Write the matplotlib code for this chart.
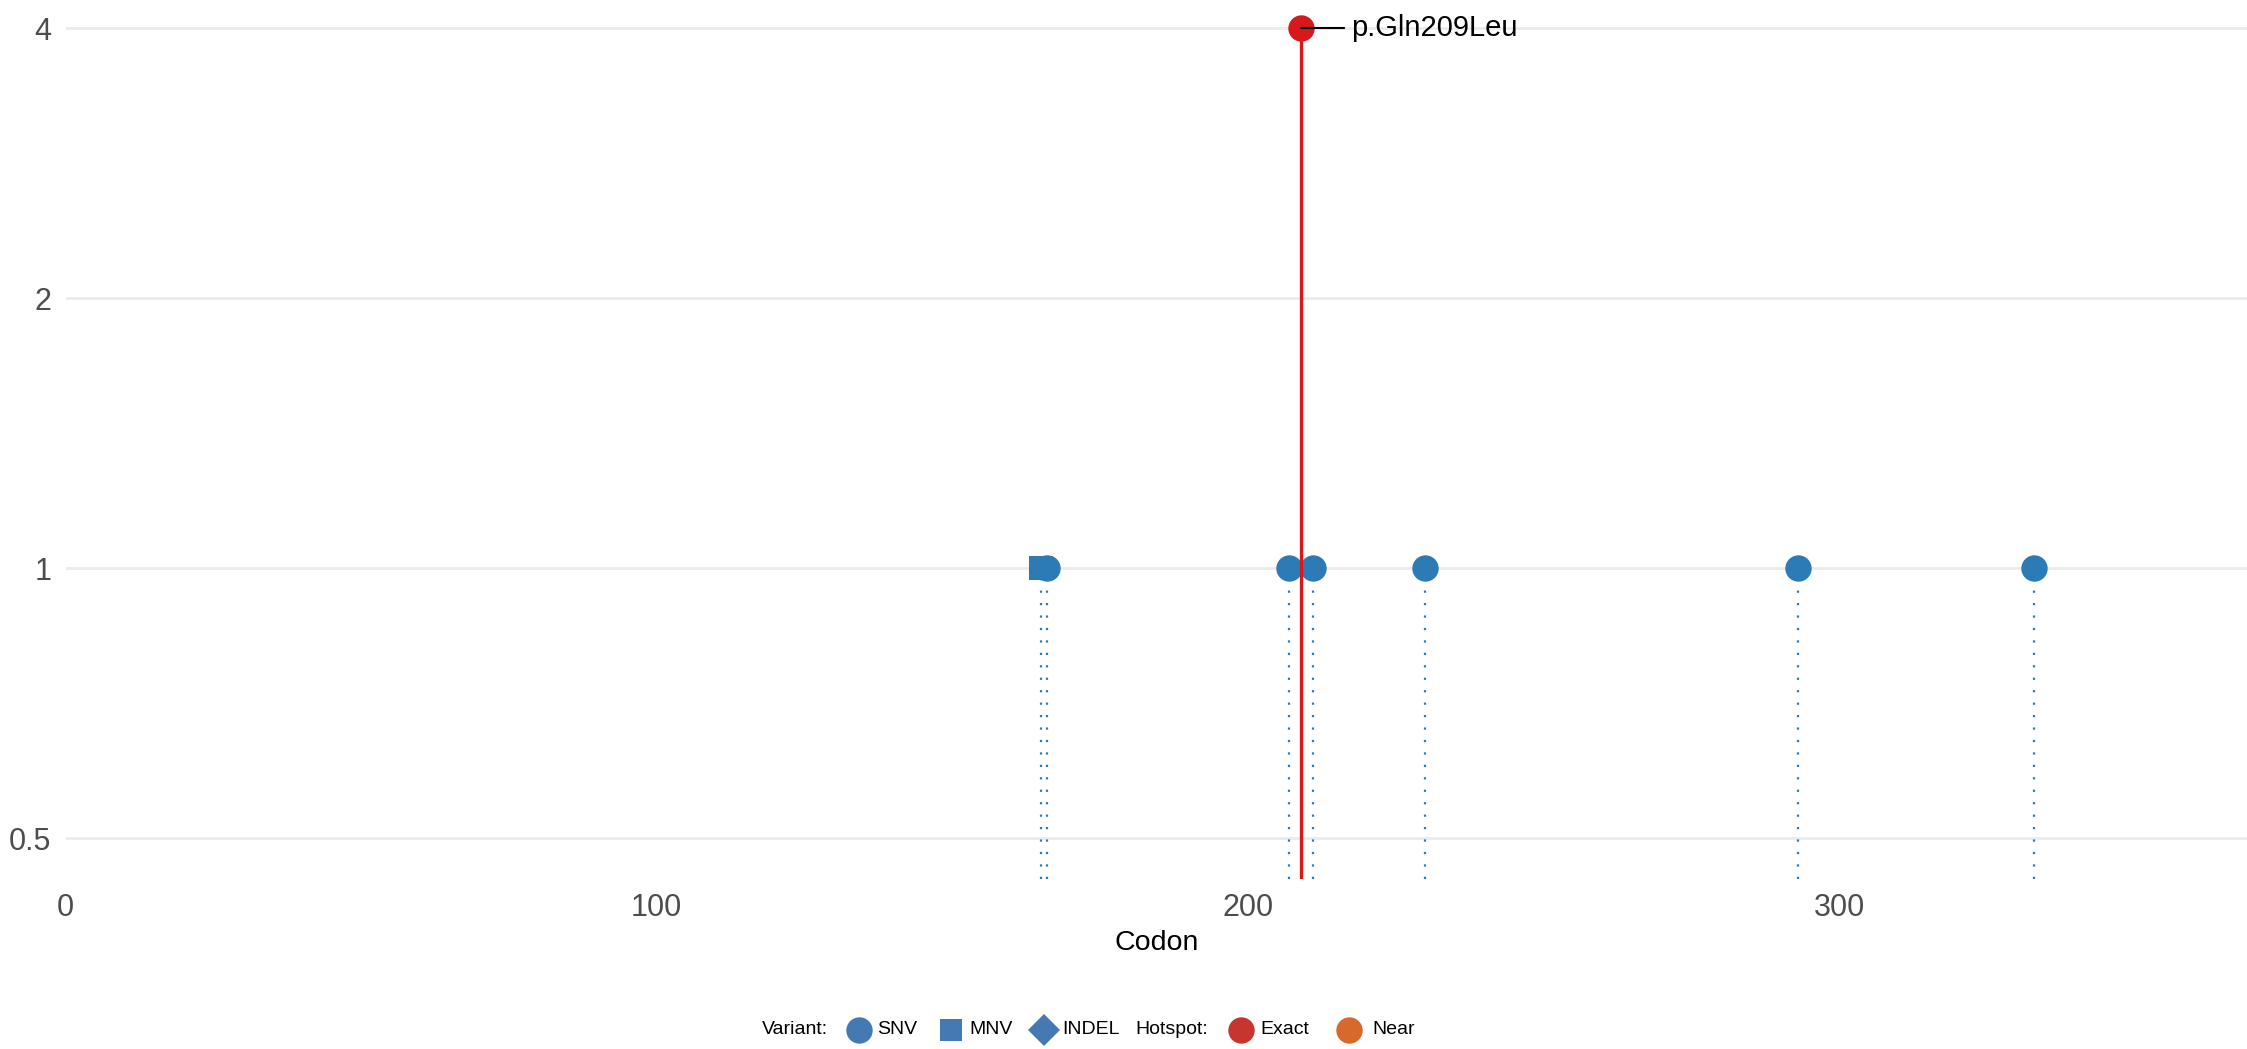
import matplotlib
matplotlib.use("Agg")
import matplotlib.pyplot as plt
from matplotlib.ticker import FixedLocator, FixedFormatter

plt.rcParams['font.family'] = ['Liberation Sans', 'DejaVu Sans']

#%% data
snv_codon = [166, 207, 211, 230, 293, 333]
snv_count = [1, 1, 1, 1, 1, 1]
mnv_codon = [165]
mnv_count = [1]
hot_codon = [209]
hot_count = [4]
hot_label = ['p.Gln209Leu']

y_ticks = [0.5, 1, 2, 4]
y_ticklabels = ['0.5', '1', '2', '4']
x_ticks = [0, 100, 200, 300]

blue = '#2c7bb6'
red = '#d7191c'

#%% figure
W, H = 2247, 1049
fig = plt.figure(figsize=(W / 100, H / 100), dpi=100)
ax = fig.add_axes([65.5 / W, (H - 879) / H, (W - 65.5) / W, 879 / H])

ax.set_yscale('log', base=2)
ybot = 2 ** (-311 / 270)
ytop = 2 ** (568 / 270)
ax.set_ylim(ybot, ytop)
ax.set_xlim(0, 369)

# stems
ax.vlines(mnv_codon + snv_codon, ybot, mnv_count + snv_count, colors=blue,
          linewidth=1.6, linestyles=[(0, (1, 4.6))], zorder=2)
ax.vlines(hot_codon, ybot, hot_count, colors=red, linewidth=2.4, zorder=4)

# points
ax.plot(mnv_codon, mnv_count, 's', color=blue, markersize=17, markeredgewidth=0, zorder=3)
ax.plot(snv_codon, snv_count, 'o', color=blue, markersize=19, markeredgewidth=0, zorder=3)
ax.plot(hot_codon, hot_count, 'o', color=red, markersize=19, markeredgewidth=0, zorder=5)

for cx, cy, lab in zip(hot_codon, hot_count, hot_label):
    ax.annotate(lab, xy=(cx, cy), xytext=(36, 0), textcoords='offset points',
                ha='left', va='center', fontsize=21, color='black', zorder=6,
                arrowprops=dict(arrowstyle='-', color='black', lw=1.5,
                                shrinkA=3, shrinkB=0))

ax.yaxis.set_major_locator(FixedLocator(y_ticks))
ax.yaxis.set_major_formatter(FixedFormatter(y_ticklabels))
ax.yaxis.set_minor_locator(FixedLocator([]))
ax.set_xticks(x_ticks)
ax.tick_params(axis='both', length=0, labelsize=22, labelcolor='#4d4d4d')
ax.tick_params(axis='y', pad=10)
ax.tick_params(axis='x', pad=10)
ax.grid(axis='y', color='#ebebeb', linewidth=2)
ax.set_axisbelow(True)
for s in ax.spines.values():
    s.set_visible(False)
ax.set_xlabel('Codon', fontsize=20.5, color='black', labelpad=5)

#%% legend (drawn in pixel coordinates)
lg = fig.add_axes([0, 0, 1, 1], zorder=-1)
lg.set_xlim(0, W)
lg.set_ylim(H, 0)
lg.axis('off')
ly = 1030
fs = 14
leg_blue = '#4479b4'
lg.text(762, ly, 'Variant:', fontsize=fs, va='center', ha='left')
lg.plot([859], [ly], 'o', color=leg_blue, markersize=19, markeredgewidth=0)
lg.text(877, ly, 'SNV', fontsize=fs, va='center', ha='left')
lg.plot([951], [ly], 's', color=leg_blue, markersize=16, markeredgewidth=0)
lg.text(969, ly, 'MNV', fontsize=fs, va='center', ha='left')
lg.plot([1044], [ly], 'D', color=leg_blue, markersize=16, markeredgewidth=0)
lg.text(1062, ly, 'INDEL', fontsize=fs, va='center', ha='left')
lg.text(1135, ly, 'Hotspot:', fontsize=fs, va='center', ha='left')
lg.plot([1241], [ly], 'o', color='#c8352e', markersize=19, markeredgewidth=0)
lg.text(1260, ly, 'Exact', fontsize=fs, va='center', ha='left')
lg.plot([1349], [ly], 'o', color='#d8692c', markersize=19, markeredgewidth=0)
lg.text(1372, ly, 'Near', fontsize=fs, va='center', ha='left')

fig.savefig('out.png', dpi=100)
